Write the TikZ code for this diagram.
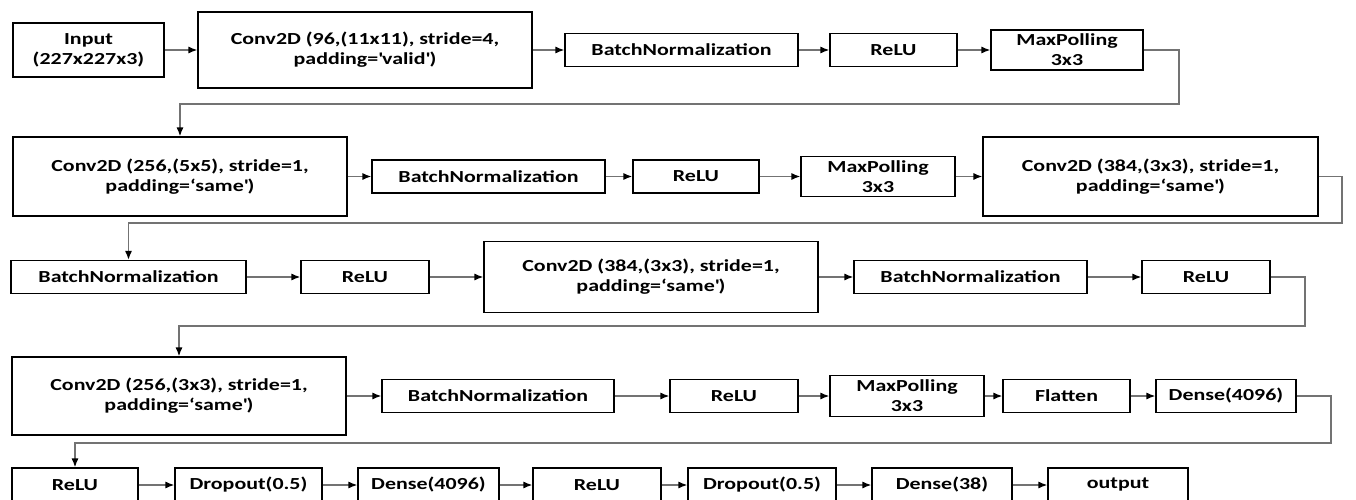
\documentclass[tikz,border=0pt]{standalone}
\usepackage{fontspec}
\setmainfont{Carlito}[FakeStretch=1.3]
\usetikzlibrary{arrows.meta, positioning}
\tikzset{>={Latex[length=5pt,width=4pt,color=black]}, x=0.02cm, y=-0.02cm}
\tikzset{
  layer/.style={draw, line width=0.9pt, fill=white, align=center, inner sep=0pt,
    font=\fontsize{9.6}{11.3}\selectfont\bfseries},
  conv/.style={layer, minimum width=6.68cm, minimum height=1.58cm},
  bn/.style={layer, minimum width=4.66cm, minimum height=0.66cm},
  relu/.style={layer, minimum width=2.56cm, minimum height=0.66cm},
  pool/.style={layer, minimum width=3.06cm, minimum height=0.8cm},
  unit/.style={layer, minimum width=2.8cm, minimum height=0.66cm},
  link/.style={->, draw=black!55, line width=0.7pt}
}
\newcommand{\sq}{\textquotesingle}

\begin{document}
\begin{tikzpicture}
\useasboundingbox (0,0) rectangle (1356,500);
% row 1
\node[layer, minimum width=3.02cm, minimum height=1.08cm] (in) at (88.5,50) {Input\\(227x227x3)};
\node[conv, minimum height=1.52cm] (conva) at (365,50) {Conv2D (96,(11x11), stride=4,\\padding=\sq valid\sq)};
\node[bn] (bna) at (681.5,50) {BatchNormalization};
\node[relu, minimum width=2.54cm] (relua) at (893.5,50) {ReLU};
\node[pool, minimum width=3.04cm] (poola) at (1067,50) {MaxPolling\\3x3};
% row 2
\node[conv] (convb) at (180,176.5) {Conv2D (256,(5x5), stride=1,\\padding=‘same\sq)};
\node[bn] (bnb) at (488.5,176.5) {BatchNormalization};
\node[relu, minimum width=2.52cm] (relub) at (696,176.5) {ReLU};
\node[pool, minimum width=3.08cm] (poolb) at (878,176.5) {MaxPolling\\3x3};
\node[conv, minimum width=6.7cm] (convc) at (1150.5,176.5) {Conv2D (384,(3x3), stride=1,\\padding=‘same\sq)};
% row 3
\node[bn, minimum width=4.7cm] (bnc) at (128.5,277) {BatchNormalization};
\node[relu] (reluc) at (365,277) {ReLU};
\node[conv, minimum height=1.42cm] (convd) at (651,277) {Conv2D (384,(3x3), stride=1,\\padding=‘same\sq)};
\node[bn] (bnd) at (970.5,277) {BatchNormalization};
\node[relu] (relud) at (1206,277) {ReLU};
% row 4
\node[conv, minimum height=1.56cm] (conve) at (179,396) {Conv2D (256,(3x3), stride=1,\\padding=‘same\sq)};
\node[bn, minimum width=4.64cm] (bne) at (498,396) {BatchNormalization};
\node[relu] (relue) at (734,396) {ReLU};
\node[pool, minimum width=3.08cm, minimum height=0.82cm] (poolc) at (907,396) {MaxPolling\\3x3};
\node[unit, minimum width=2.54cm] (flat) at (1066.5,396) {Flatten};
\node[unit] (densea) at (1226,396) {Dense(4096)};
% row 5
\node[relu, minimum width=2.52cm, minimum height=0.68cm] (reluf) at (75,485) {ReLU};
\node[unit, minimum width=2.94cm, minimum height=0.68cm] (dropa) at (248.5,485) {Dropout(0.5)};
\node[unit, minimum width=2.82cm, minimum height=0.68cm] (denseb) at (428.5,485) {Dense(4096)};
\node[relu, minimum height=0.68cm] (relug) at (597,485) {ReLU};
\node[unit, minimum width=2.96cm, minimum height=0.68cm] (dropb) at (762,485) {Dropout(0.5)};
\node[unit, minimum height=0.68cm] (densec) at (942,485) {Dense(38)};
\node[unit, minimum height=0.68cm] (outp) at (1118,485) {output};

\foreach \a/\b in {in/conva, conva/bna, bna/relua, relua/poola,
                   convb/bnb, bnb/relub, relub/poolb, poolb/convc,
                   bnc/reluc, reluc/convd, convd/bnd, bnd/relud,
                   conve/bne, bne/relue, relue/poolc, poolc/flat, flat/densea,
                   reluf/dropa, dropa/denseb, denseb/relug, relug/dropb, dropb/densec, densec/outp}
  \draw[link] (\a) -- (\b);

% row to row
\coordinate (turna) at (1179,104);
\coordinate (turnb) at (1342,223);
\coordinate (turnc) at (1305,326);
\coordinate (turnd) at (1331,443);
\draw[link] (poola.east) -| (turna) -| (convb.north);
\draw[link] (convc.east) -| (turnb) -| (bnc.north);
\draw[link] (relud.east) -| (turnc) -| (conve.north);
\draw[link] (densea.east) -| (turnd) -| (reluf.north);
\end{tikzpicture}
\end{document}
